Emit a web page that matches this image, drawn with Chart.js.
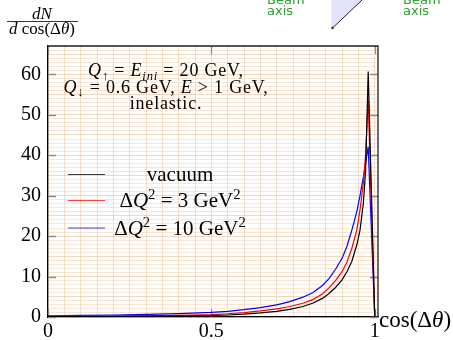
<!DOCTYPE html>
<html>
<head>
<meta charset="utf-8">
<script src="https://cdn.jsdelivr.net/npm/chart.js@4.4.0/dist/chart.umd.min.js"></script>
<style>
html, body { margin: 0; padding: 0; background: #fff; }
</style>
</head>
<body>
<canvas id="chart" width="453" height="340"></canvas>
<script>
// values
var cosTheta = [0, 0.1, 0.2, 0.3, 0.4, 0.5, 0.55, 0.6, 0.65, 0.7, 0.74, 0.78, 0.81, 0.84, 0.86, 0.88, 0.9, 0.915, 0.93, 0.945, 0.955, 0.965, 0.972, 0.98, 1.0];
var vacuum   = [0.1, 0.12, 0.15, 0.2, 0.25, 0.35, 0.5, 0.7, 1.0, 1.4, 1.9, 2.6, 3.4, 4.6, 5.8, 7.3, 9.2, 11.2, 13.8, 17.8, 21.5, 28.0, 36.0, 60.7, 0];
var dq3      = [0.15, 0.2, 0.25, 0.3, 0.4, 0.6, 0.8, 1.1, 1.5, 2.0, 2.6, 3.4, 4.3, 5.7, 7.2, 9.0, 11.2, 13.6, 17.0, 21.5, 26.5, 33.0, 40.0, 53.7, 0];
var dq10     = [0.3, 0.4, 0.5, 0.65, 0.85, 1.15, 1.4, 1.8, 2.3, 3.0, 3.8, 4.9, 6.0, 7.8, 9.5, 11.8, 14.5, 17.5, 21.5, 26.0, 30.0, 34.5, 38.0, 42.1, 0];
var seriesNames  = ['vacuum', 'ΔQ² = 3 GeV²', 'ΔQ² = 10 GeV²'];
var seriesColors = ['#000000', '#ff0000', '#0000ff'];
var xTickLabels = [0, 0.5, 1];
var yTickLabels = [0, 10, 20, 30, 40, 50, 60];

var SERIF = '"Liberation Serif", "DejaVu Serif", serif';

// rich text: parts = [[text, style]], style: i italic, s subscript, p superscript
function richWidth(ctx, parts, size) {
	var w = 0;
	for (var i = 0; i < parts.length; i++) {
		var st = parts[i][1], sz = size;
		if (st.indexOf('s') != -1 || st.indexOf('p') != -1) sz = size * 0.7;
		ctx.font = (st.indexOf('i') != -1 ? 'italic ' : '') + sz + 'px ' + SERIF;
		w += ctx.measureText(parts[i][0]).width;
	}
	return w;
}
function drawRich(ctx, parts, x, y, size, align) {
	var w = richWidth(ctx, parts, size);
	if (align == 'center') x -= w / 2;
	ctx.textBaseline = 'alphabetic';
	ctx.textAlign = 'left';
	for (var i = 0; i < parts.length; i++) {
		var st = parts[i][1], sz = size, dy = 0;
		if (st.indexOf('s') != -1) { sz = size * 0.7; dy = size * 0.22; }
		if (st.indexOf('p') != -1) { sz = size * 0.7; dy = -size * 0.38; }
		ctx.font = (st.indexOf('i') != -1 ? 'italic ' : '') + sz + 'px ' + SERIF;
		ctx.fillText(parts[i][0], x, y + dy);
		x += ctx.measureText(parts[i][0]).width;
	}
}

var legendRich = [
	[['vacuum', '']],
	[['Δ', ''], ['Q', 'i'], ['2', 'p'], [' = 3 GeV', ''], ['2', 'p']],
	[['Δ', ''], ['Q', 'i'], ['2', 'p'], [' = 10 GeV', ''], ['2', 'p']]
];
var noteLines = [
	[['Q', 'i'], ['↑', 's'], [' = ', ''], ['E', 'i'], ['ini', 'is'], [' = 20 GeV,', '']],
	[['Q', 'i'], ['↓', 's'], [' = 0.6 GeV, ', ''], ['E', 'i'], [' > 1 GeV,', '']],
	[['inelastic.', '']]
];

var decor = {
	id: 'decor',
	beforeDatasetsDraw: function(chart) {
		var ctx = chart.ctx, a = chart.chartArea;
		var xs = chart.scales.x, ys = chart.scales.y;
		ctx.save();
		// inward tick marks
		ctx.strokeStyle = '#8a8a8a';
		ctx.lineWidth = 1.3;
		ctx.beginPath();
		for (var i = 0; i < yTickLabels.length; i++) {
			var py = Math.round(ys.getPixelForValue(yTickLabels[i])) + 0.5;
			ctx.moveTo(a.left, py); ctx.lineTo(a.left + 8, py);
			ctx.moveTo(a.right, py); ctx.lineTo(a.right - 8, py);
		}
		for (var j = 0; j < xTickLabels.length; j++) {
			var px = Math.round(xs.getPixelForValue(xTickLabels[j])) + 0.5;
			ctx.moveTo(px, a.top); ctx.lineTo(px, a.top + 8);
			ctx.moveTo(px, a.bottom); ctx.lineTo(px, a.bottom - 8);
		}
		ctx.stroke();
		ctx.restore();
	},
	afterDraw: function(chart) {
		var ctx = chart.ctx, a = chart.chartArea;
		ctx.save();
		// top and right frame
		ctx.strokeStyle = '#222';
		ctx.lineWidth = 1.3;
		ctx.beginPath();
		ctx.moveTo(a.left, a.top); ctx.lineTo(a.right, a.top); ctx.lineTo(a.right, a.bottom);
		ctx.stroke();

		ctx.fillStyle = '#000';
		ctx.strokeStyle = '#000';
		// y title as a fraction
		drawRich(ctx, [['dN', 'i']], 42, 19, 17, 'center');
		ctx.lineWidth = 0.8;
		ctx.beginPath(); ctx.moveTo(7, 21.5); ctx.lineTo(78, 21.5); ctx.stroke();
		drawRich(ctx, [['d', 'i'], [' cos(Δ', ''], ['θ', 'i'], [')', '']], 42, 34, 17, 'center');
		// x title
		drawRich(ctx, [['cos(Δ', ''], ['θ', 'i'], [')', '']], 379, 327, 23, 'left');

		// note
		ctx.letterSpacing = '0.8px';
		var ny = [76, 92.5, 109];
		for (var k = 0; k < noteLines.length; k++) drawRich(ctx, noteLines[k], 166, ny[k], 18, 'center');
		ctx.letterSpacing = '0px';

		// legend
		var ly = [174.5, 200.5, 228];
		for (var m = 0; m < legendRich.length; m++) {
			ctx.strokeStyle = seriesColors[m];
			ctx.globalAlpha = 0.75;
			ctx.lineWidth = 1;
			ctx.beginPath(); ctx.moveTo(68, ly[m]); ctx.lineTo(105, ly[m]); ctx.stroke();
			ctx.globalAlpha = 1;
			ctx.fillStyle = '#000';
			drawRich(ctx, legendRich[m], 180, ly[m] + 6.5, 21, 'center');
		}

		// fragment of the neighbouring figure at the top
		ctx.fillStyle = '#e2e2fa';
		ctx.beginPath(); ctx.moveTo(331.5, 0); ctx.lineTo(361.5, 0); ctx.lineTo(332, 28); ctx.lineTo(331.5, 28); ctx.closePath(); ctx.fill();
		ctx.strokeStyle = '#1c1c3a';
		ctx.lineWidth = 1;
		ctx.beginPath(); ctx.moveTo(362, 0); ctx.lineTo(332.5, 28); ctx.stroke();
		ctx.fillStyle = '#333';
		ctx.beginPath(); ctx.arc(332.5, 28, 1.3, 0, Math.PI * 2); ctx.fill();
		ctx.fillStyle = '#2ca02c';
		ctx.font = '13px "DejaVu Sans", sans-serif';
		ctx.textAlign = 'left';
		ctx.textBaseline = 'alphabetic';
		ctx.fillText('Beam', 267, 4);
		ctx.fillText('axis', 267, 15);
		ctx.fillText('Beam', 403, 4);
		ctx.fillText('axis', 403, 15);
		ctx.restore();
	}
};

function pts(ys) {
	return cosTheta.map(function(x, i) { return { x: x, y: ys[i] }; });
}

var ctx = document.getElementById('chart').getContext('2d');
var chart = new Chart(ctx, {
	type: 'line',
	data: {
		datasets: [
			{ label: seriesNames[0], data: pts(vacuum), borderColor: seriesColors[0] },
			{ label: seriesNames[1], data: pts(dq3), borderColor: seriesColors[1] },
			{ label: seriesNames[2], data: pts(dq10), borderColor: seriesColors[2] }
		]
	},
	options: {
		responsive: false,
		animation: false,
		devicePixelRatio: 1,
		layout: { padding: { top: 46, right: 75, bottom: 0, left: 0 } },
		elements: {
			line: { borderWidth: 1.2, tension: 0 },
			point: { radius: 0 }
		},
		plugins: { legend: { display: false }, tooltip: { enabled: false } },
		scales: {
			x: {
				type: 'linear',
				min: 0,
				max: 1.01,
				afterBuildTicks: function(s) {
					var t = [];
					for (var k = 0; k <= 20; k++) t.push({ value: k * 5 / 100 });
					s.ticks = t;
				},
				afterFit: function(s) { s.height = 23; },
				border: { display: true, color: '#000', width: 1.3 },
				grid: { color: 'rgba(232,196,160,0.55)', lineWidth: 1, drawTicks: false },
				ticks: {
					autoSkip: false,
					maxRotation: 0,
					padding: 3,
					color: '#000',
					font: { family: SERIF, size: 20 },
					callback: function(v) {
						for (var i = 0; i < xTickLabels.length; i++)
							if (Math.abs(v - xTickLabels[i]) < 1e-6) return String(xTickLabels[i]);
						return '';
					}
				}
			},
			y: {
				min: 0,
				max: 67,
				afterBuildTicks: function(s) {
					var t = [];
					for (var k = 0; k <= 67; k++) t.push({ value: k });
					s.ticks = t;
				},
				afterFit: function(s) { s.width = 48; },
				border: { display: true, color: '#000', width: 1.3 },
				grid: {
					drawTicks: false,
					lineWidth: 1,
					color: function(c) {
						return c.tick && c.tick.value % 5 == 0 ? 'rgba(230,190,150,0.6)' : 'rgba(245,205,170,0.5)';
					}
				},
				ticks: {
					autoSkip: false,
					padding: 7,
					color: '#000',
					font: { family: SERIF, size: 20 },
					callback: function(v) { return yTickLabels.indexOf(v) != -1 ? String(v) : ''; }
				}
			}
		}
	},
	plugins: [decor]
});
</script>
</body>
</html>
